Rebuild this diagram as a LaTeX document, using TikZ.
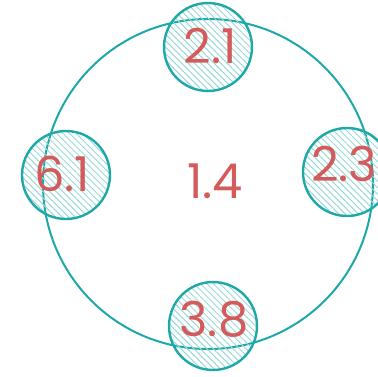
\documentclass[tikz,border=0pt]{standalone}
\usepackage{fontspec}
\setmainfont{Poppins}
\usetikzlibrary{patterns.meta}
\definecolor{tealline}{HTML}{1EA8A8}
\definecolor{tealhatch}{HTML}{9AD8D8}
\definecolor{numred}{HTML}{D45B5B}
\tikzset{
  bigring/.style={circle,draw=tealline,line width=2pt,inner sep=0pt,minimum size=330pt},
  smallring/.style={circle,draw=tealline,line width=2.4pt,inner sep=0pt,minimum size=88pt,
    pattern={Lines[angle=-45,distance=4.6pt,line width=1pt]},pattern color=tealhatch},
  num/.style={text=numred,font=\fontsize{48}{50}\selectfont,inner sep=0pt,anchor=center}
}
\begin{document}
\begin{tikzpicture}[x=1pt,y=-1pt]
\useasboundingbox (0,0) rectangle (378,376);
\clip (0,0) rectangle (378,376);
\node[bigring] (big) at (208,184) {};
\node[smallring] (top) at (208,47) {};
\node[smallring] (left) at (66,175) {};
\node[smallring] (right) at (347,172) {};
\node[smallring] (bottom) at (213,326) {};
\node[num] (tbig) at (215,181) {1.4};
\node[num] (ttop) at (210,46) {2.1};
\node[num] (tleft) at (62,174) {6.1};
\node[num] (tright) at (344,164) {2.3};
\node[num] (tbottom) at (214,319) {3.8};
\end{tikzpicture}
\end{document}
